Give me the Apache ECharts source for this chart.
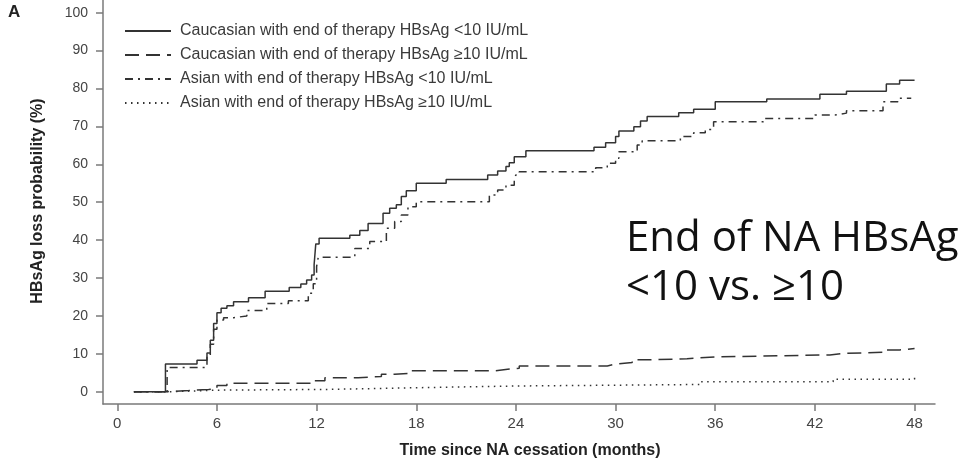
<!DOCTYPE html>
<html>
<head>
<meta charset="utf-8">
<title>HBsAg loss after NA cessation</title>
<script src="https://cdn.jsdelivr.net/npm/echarts@6/dist/echarts.min.js"></script>
<style>
  html, body { margin: 0; padding: 0; background: #fff; }
  #chart { width: 961px; height: 462px; }
</style>
</head>
<body>
<div id="chart"></div>
<script>
// Cumulative HBsAg loss (%) by month since NA cessation, step curves
const seriesNames = [
  'Caucasian with end of therapy HBsAg <10 IU/mL',
  'Caucasian with end of therapy HBsAg \u226510 IU/mL',
  'Asian with end of therapy HBsAg <10 IU/mL',
  'Asian with end of therapy HBsAg \u226510 IU/mL'
];

const cauLowMonths = [1.0, 2.9, 4.8, 5.4, 5.6, 5.8, 6.0, 6.25, 6.6, 7.0, 7.9, 8.9, 10.35, 11.05, 11.4, 11.7, 11.85, 11.95, 12.15,
  14.0, 14.6, 15.1, 16.0, 16.4, 16.8, 17.1, 17.4, 18.0, 19.8, 22.3, 22.9, 23.4, 23.6, 23.9, 24.6,
  28.7, 29.4, 30.0, 30.2, 31.1, 31.5, 31.9, 33.8, 34.7, 36.0, 39.1, 42.3, 43.9, 46.3, 47.1, 48.0];
const cauLowValues = [0, 7.3, 8.3, 10.2, 13.6, 18.0, 20.8, 22.0, 22.7, 23.7, 24.8, 26.5, 27.5, 28.4, 29.5, 30.8, 33.5, 39.0, 40.5,
  41.3, 42.5, 44.4, 47.1, 48.4, 49.3, 51.5, 53.0, 55.0, 56.0, 57.2, 58.2, 59.4, 60.4, 62.0, 63.6,
  64.5, 65.7, 67.3, 68.8, 69.9, 71.4, 72.6, 73.6, 74.5, 76.5, 77.2, 78.5, 79.3, 81.2, 82.2, 82.2];

const cauHighMonths = [1.0, 3.0, 4.3, 5.5, 6.0, 6.6, 11.8, 12.5, 14.5, 15.9, 16.7, 17.5, 22.7, 23.5, 24.2, 29.5, 29.9,
  31.0, 31.9, 34.3, 36.1, 42.9, 43.7, 46.3, 47.1, 48.0];
const cauHighValues = [0, 0.3, 0.6, 0.8, 1.6, 2.2, 2.9, 3.7, 4.0, 4.6, 4.8, 5.5, 5.9, 6.2, 6.8, 7.2, 7.7,
  8.4, 8.7, 9.2, 9.7, 10.1, 10.4, 11.0, 11.4, 11.4];

const asiaLowMonths = [1.0, 3.0, 5.4, 5.6, 5.8, 6.0, 6.4, 7.0, 7.8, 9.0, 10.3, 11.5, 11.8, 12.0, 12.1, 14.3, 15.2,
  16.2, 16.7, 17.1, 17.5, 18.0, 22.4, 22.9, 23.4, 23.9, 24.0, 24.2, 28.8, 29.5, 30.0, 30.2, 31.3, 31.6,
  33.9, 34.7, 35.4, 35.9, 38.9, 42.0, 43.2, 43.9, 46.1, 47.0, 47.8];
const asiaLowValues = [0, 6.4, 9.5, 12.5, 16.5, 18.9, 19.5, 20.0, 21.4, 23.3, 24.0, 26.0, 28.5, 33.0, 35.5, 37.8, 39.6,
  43.1, 44.9, 46.6, 48.8, 50.1, 51.9, 53.2, 54.5, 56.3, 57.2, 58.0, 59.1, 60.3, 61.6, 63.3, 65.1, 66.2,
  67.3, 68.3, 69.2, 71.2, 72.1, 73.0, 73.5, 74.1, 76.5, 77.4, 77.4];

const asiaHighMonths = [1.0, 3.3, 4.7, 5.9, 12.7, 18.7, 24.0, 35.1, 43.1, 48.0];
const asiaHighValues = [0, 0.2, 0.4, 0.6, 1.1, 1.5, 1.9, 2.6, 3.3, 3.8];

const xTicks = [0, 6, 12, 18, 24, 30, 36, 42, 48];
const yTicks = [0, 10, 20, 30, 40, 50, 60, 70, 80, 90, 100];

const pairs = (xs, ys) => xs.map((x, i) => [x, ys[i]]);

const lineColor = '#333';
const axisColor = '#7a7a7a';
const labelColor = '#444';
const uiFont = 'Liberation Sans, Arial, sans-serif';

function curve(name, xs, ys, type, width) {
  return {
    name: name,
    type: 'line',
    step: 'end',
    data: pairs(xs, ys),
    symbol: 'none',
    silent: true,
    lineStyle: { color: lineColor, width: width, type: type },
    itemStyle: { color: lineColor }
  };
}

const chart = echarts.init(document.getElementById('chart'), null, { renderer: 'canvas' });

chart.setOption({
  animation: false,
  backgroundColor: '#fff',
  grid: { left: 103, right: 26, top: 0, bottom: 58, containLabel: false },
  legend: {
    orient: 'vertical',
    left: 119,
    top: 18,
    itemWidth: 46,
    itemHeight: 14,
    itemGap: 8,
    selectedMode: false,
    data: seriesNames,
    // only the line sample is shown next to each entry
    itemStyle: { color: 'rgba(0,0,0,0)', borderWidth: 0, opacity: 0 },
    textStyle: { fontFamily: uiFont, fontSize: 16, color: '#3a3a3a', padding: [0, 0, 0, 4] }
  },
  xAxis: {
    type: 'value',
    min: -0.86,
    max: 49.23,
    axisLine: { show: true, onZero: false, lineStyle: { color: axisColor, width: 1.5 } },
    splitLine: { show: false },
    axisTick: { show: true, customValues: xTicks, length: 7, inside: false, lineStyle: { color: axisColor, width: 1.5 } },
    axisLabel: { customValues: xTicks, margin: 12, fontSize: 15, color: labelColor, fontFamily: uiFont }
  },
  yAxis: {
    type: 'value',
    min: -3.25,
    max: 103.35,
    axisLine: { show: true, onZero: false, lineStyle: { color: axisColor, width: 1.5 } },
    splitLine: { show: false },
    axisTick: { show: true, customValues: yTicks, length: 7, inside: false, lineStyle: { color: axisColor, width: 1.5 } },
    axisLabel: { customValues: yTicks, margin: 15, fontSize: 14, color: labelColor, fontFamily: uiFont }
  },
  graphic: [
    { type: 'text', left: 8, top: 4, style: { text: 'A', font: 'bold 17px ' + uiFont, fill: '#222' } },
    { type: 'text', x: 38, y: 201, rotation: Math.PI / 2,
      style: { text: 'HBsAg loss probability (%)', font: 'bold 16px ' + uiFont, fill: '#222', align: 'center', verticalAlign: 'middle' } },
    { type: 'text', x: 530, y: 451,
      style: { text: 'Time since NA cessation (months)', font: 'bold 16px ' + uiFont, fill: '#222', align: 'center', verticalAlign: 'middle' } },
    { type: 'text', x: 626, y: 239,
      style: { text: 'End of NA HBsAg', font: '42px Open Sans, sans-serif', fill: '#111', align: 'left', verticalAlign: 'middle' } },
    { type: 'text', x: 626, y: 288,
      style: { text: '<10 vs. \u226510', font: '42px Open Sans, sans-serif', fill: '#111', align: 'left', verticalAlign: 'middle' } }
  ],
  series: [
    curve(seriesNames[0], cauLowMonths, cauLowValues, 'solid', 1.5),
    curve(seriesNames[1], cauHighMonths, cauHighValues, [14, 7], 1.5),
    curve(seriesNames[2], asiaLowMonths, asiaLowValues, [8, 5, 2, 5], 1.5),
    curve(seriesNames[3], asiaHighMonths, asiaHighValues, [1.5, 4.5], 1.5)
  ]
});
</script>
</body>
</html>
